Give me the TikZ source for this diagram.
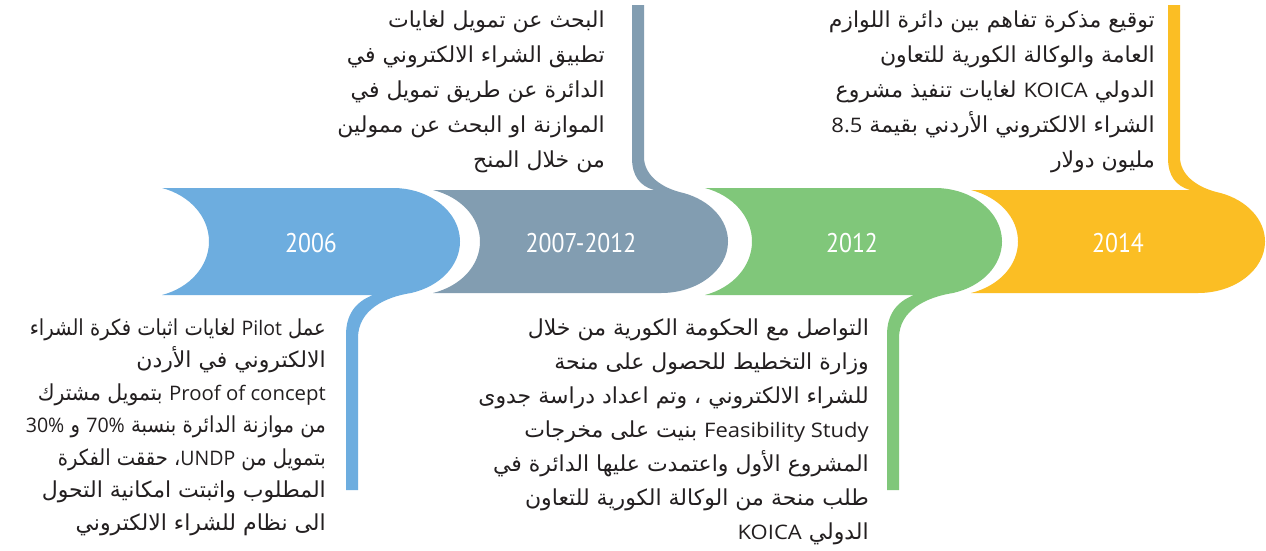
\documentclass[tikz,border=0pt]{standalone}
\usepackage{fontspec}
\usepackage{graphicx}
\TeXXeTstate=1
\newfontfamily\arabicfont[Script=Arabic]{DejaVu Sans}
\newfontfamily\latinfont[FakeStretch=1.1]{Open Sans}
\newfontfamily\yearfont[FakeStretch=0.88]{PT Sans}
\definecolor{cblue}{RGB}{109,173,223}
\definecolor{cgray}{RGB}{130,157,177}
\definecolor{cgreen}{RGB}{128,199,122}
\definecolor{cyellow}{RGB}{251,190,36}
\definecolor{txt}{RGB}{35,31,32}
\newcommand\lat[1]{\beginL{\latinfont\fontsize{20}{20}\selectfont #1}\endL}
\newcommand\fitw[2]{\resizebox{#1pt}{\height}{#2}}
% stem-down ribbon: #1 colour, #2 left corner x, #3 bulge start x, #4 stem left x, #5 stem bottom y
\newcommand\ribbondown[5]{%
 \fill[#1] (#2,188) -- (#3,188)
  .. controls ({#3+37},188) and ({#3+67},212) .. ({#3+67},241.5)
  .. controls ({#3+67},265.5) and ({#3+47},286.5) .. ({#3+18},293)
  .. controls ({#3-8},297) and ({#4+12},310) .. ({#4+12},338)
  -- ({#4+12},#5) -- (#4,#5) -- (#4,335)
  .. controls (#4,315) and ({#4+9},302) .. ({#4+27},295)
  -- (#2,295)
  .. controls ({#2+28},287.7) and ({#2+47},266) .. ({#2+47},241.5)
  .. controls ({#2+47},217) and ({#2+28},195.3) .. (#2,188) -- cycle;}
% stem-up ribbon: #1 colour, #2 left corner x, #3 bulge centre x, #4 stem left x, #5 stem top y
\newcommand\ribbonup[5]{%
 \fill[#1] (#2,190) -- ({#4+22},190)
  .. controls ({#4+8},186) and (#4,176) .. (#4,158)
  -- (#4,#5) -- ({#4+12},#5) -- ({#4+12},157)
  .. controls ({#4+12},175) and ({#4+29},188) .. ({#3+22.5},193)
  .. controls ({#3+49.2},200.3) and ({#3+67},219.7) .. ({#3+67},241.5)
  .. controls ({#3+67},269.9) and ({#3+37},293) .. (#3,293)
  -- (#2,293)
  .. controls ({#2+28},286) and ({#2+47},265.5) .. ({#2+47},241.5)
  .. controls ({#2+47},217.5) and ({#2+28},197) .. (#2,190) -- cycle;}
\tikzset{
 yearlbl/.style={text=white, font=\yearfont\fontsize{27}{27}\selectfont, inner sep=0pt},
 arline/.style={anchor=base east, inner sep=0pt, text=txt, font=\arabicfont\fontsize{22}{22}\selectfont},
}
\begin{document}
\begin{tikzpicture}[x=1pt,y=-1pt]
\useasboundingbox[fill=white] (0,0) rectangle (1266,550);
% ribbons
\ribbondown{cblue}{162}{393}{346}{490}
\ribbonup{cgray}{433}{661}{632}{5}
\ribbondown{cgreen}{705}{935}{887}{490}
\ribbonup{cyellow}{971}{1198}{1168}{5}
% years
\node[yearlbl] (y2006) at (311,243) {2006};
\node[yearlbl] (y2007) at (581,243) {2007-2012};
\node[yearlbl] (y2012) at (852,243) {2012};
\node[yearlbl] (y2014) at (1118,243) {2014};
% block 1 (2006)
\node[arline] (a1) at (326,335) {\fitw{296}{\beginR عمل \lat{Pilot} لغايات اثبات فكرة الشراء\endR}};
\node[arline] (a2) at (326,367.5) {\beginR الالكتروني في الأردن\endR};
\node[arline] (a3) at (326,400) {\fitw{288}{\beginR \lat{Proof of concept} بتمويل مشترك\endR}};
\node[arline] (a4) at (326,432.5) {\fitw{300}{\beginR من موازنة الدائرة بنسبة \lat{70\%} و \lat{30\%}\endR}};
\node[arline] (a5) at (326,465) {\fitw{268}{\beginR بتمويل من \lat{UNDP}، حققت الفكرة\endR}};
\node[arline] (a6) at (326,497.5) {\beginR المطلوب واثبتت امكانية التحول\endR};
\node[arline] (a7) at (326,530) {\beginR الى نظام للشراء الالكتروني\endR};
% block 2 (2007-2012)
\node[arline] (b1) at (605,27) {\beginR البحث عن تمويل لغايات\endR};
\node[arline] (b2) at (605,62) {\beginR تطبيق الشراء الالكتروني في\endR};
\node[arline] (b3) at (605,97) {\beginR الدائرة عن طريق تمويل في\endR};
\node[arline] (b4) at (605,132) {\beginR الموازنة او البحث عن ممولين\endR};
\node[arline] (b5) at (605,167) {\beginR من خلال المنح\endR};
% block 3 (2012)
\node[arline] (c1) at (869,335) {\beginR التواصل مع الحكومة الكورية من خلال\endR};
\node[arline] (c2) at (869,369) {\beginR وزارة التخطيط للحصول على منحة\endR};
\node[arline] (c3) at (869,403) {\beginR للشراء الالكتروني ، وتم اعداد دراسة جدوى\endR};
\node[arline] (c4) at (869,437) {\beginR \lat{Feasibility Study} بنيت على مخرجات\endR};
\node[arline] (c5) at (869,471) {\beginR المشروع الأول واعتمدت عليها الدائرة في\endR};
\node[arline] (c6) at (869,505) {\beginR طلب منحة من الوكالة الكورية للتعاون\endR};
\node[arline] (c7) at (869,539) {\beginR الدولي \lat{KOICA}\endR};
% block 4 (2014)
\node[arline] (d1) at (1155,27) {\beginR توقيع مذكرة تفاهم بين دائرة اللوازم\endR};
\node[arline] (d2) at (1155,62) {\beginR العامة والوكالة الكورية للتعاون\endR};
\node[arline] (d3) at (1155,97) {\beginR الدولي \lat{KOICA} لغايات تنفيذ مشروع\endR};
\node[arline] (d4) at (1155,132) {\beginR الشراء الالكتروني الأردني بقيمة \lat{8.5}\endR};
\node[arline] (d5) at (1155,167) {\beginR مليون دولار\endR};
\end{tikzpicture}
\end{document}
